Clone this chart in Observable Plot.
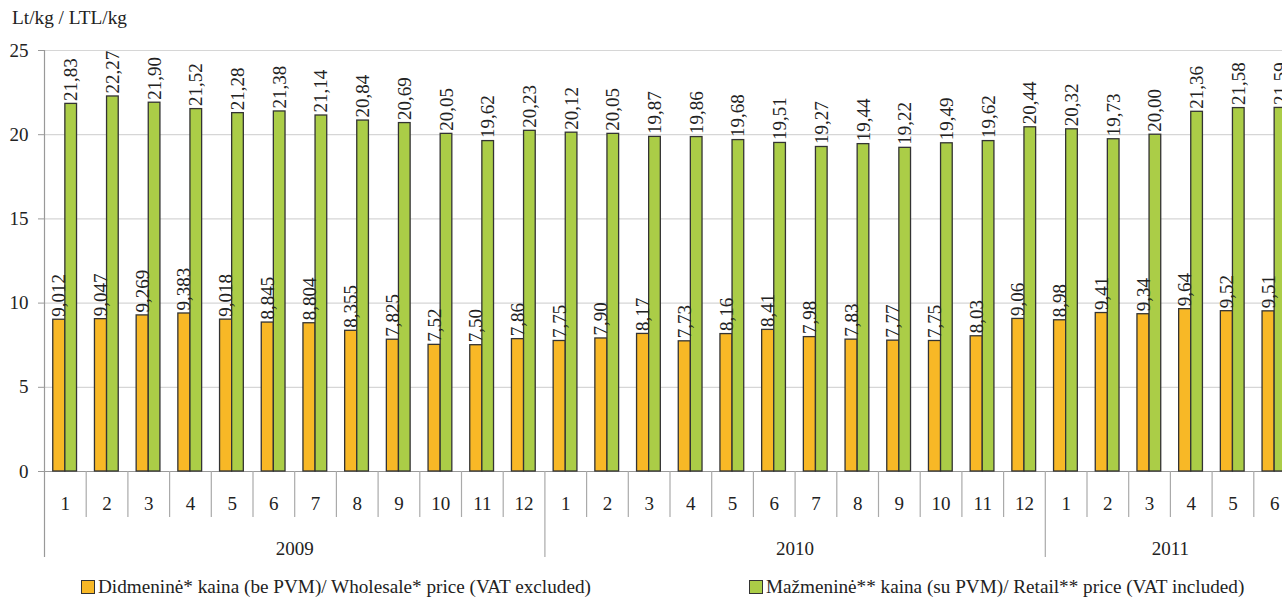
<!DOCTYPE html>
<html><head><meta charset="utf-8">
<script src="https://cdn.jsdelivr.net/npm/d3@7"></script>
<script src="https://cdn.jsdelivr.net/npm/@observablehq/plot@0.6"></script>
<style>
body{margin:0;overflow:hidden;background:#fff;font-family:"Liberation Serif","Times New Roman",serif;color:#222;}
#wrap{position:relative;width:1282px;height:598px;overflow:hidden;}
#title{position:absolute;left:12px;top:7px;font-size:19.3px;}
#chart{position:absolute;left:0;top:0;width:1300px;}
#chart svg{max-width:none !important;font-family:"Liberation Serif","Times New Roman",serif !important;}
.leg{position:absolute;top:576px;font-size:19.2px;display:flex;align-items:center;white-space:nowrap;}
.sw{width:12px;height:12px;border:1.5px solid #333;margin-right:3px;}
</style></head><body>
<div id="wrap">
<div id="chart"></div>
<div id="title">Lt/kg / LTL/kg</div>
<div class="leg" style="left:81px"><div class="sw" style="background:#F8B826"></div>Didmeninė* kaina (be PVM)/ Wholesale* price (VAT excluded)</div>
<div class="leg" style="left:749px"><div class="sw" style="background:#ABCD47"></div>Mažmeninė** kaina (su PVM)/ Retail** price (VAT included)</div>
</div>
<script>
const months = [1,2,3,4,5,6,7,8,9,10,11,12, 1,2,3,4,5,6,7,8,9,10,11,12, 1,2,3,4,5,6];
const monthYears = ["2009","2009","2009","2009","2009","2009","2009","2009","2009","2009","2009","2009",
  "2010","2010","2010","2010","2010","2010","2010","2010","2010","2010","2010","2010",
  "2011","2011","2011","2011","2011","2011"];
const wholesale = [9.012,9.047,9.269,9.383,9.018,8.845,8.804,8.355,7.825,7.52,7.50,7.86,
  7.75,7.90,8.17,7.73,8.16,8.41,7.98,7.83,7.77,7.75,8.03,9.06,
  8.98,9.41,9.34,9.64,9.52,9.51];
const wholesaleDecimals = [3,3,3,3,3,3,3,3,3,2,2,2, 2,2,2,2,2,2,2,2,2,2,2,2, 2,2,2,2,2,2];
const retail = [21.83,22.27,21.90,21.52,21.28,21.38,21.14,20.84,20.69,20.05,19.62,20.23,
  20.12,20.05,19.87,19.86,19.68,19.51,19.27,19.44,19.22,19.49,19.62,20.44,
  20.32,19.73,20.00,21.36,21.58,21.59];
const yTicks = [0,5,10,15,20,25];

const orange = "#F8B826", green = "#ABCD47";
const fmt = (v, d) => v.toFixed(d).replace(".", ",");
const rows = months.map((m, i) => ({
  i, month: String(m), year: monthYears[i],
  w: wholesale[i], r: retail[i],
  wl: fmt(wholesale[i], wholesaleDecimals[i]), rl: fmt(retail[i], 2)
}));
const yearRows = Array.from(d3.group(rows, d => d.year), ([year, g]) => ({
  year, c: d3.mean(g, d => d.i), start: d3.min(g, d => d.i) - 0.5
}));
const separators = rows.slice(0, -1).map(d => d.i + 0.5).filter(x => !yearRows.some(y => y.start === x));
const yearSeps = yearRows.map(d => d.start);

const plotTop = 50, plotBottom = 471, H = 598;
const pxPerUnit = (plotBottom - plotTop) / 25;
const toUnits = px => -px / pxPerUnit;

const chart = Plot.plot({
  width: 1300, height: H,
  marginTop: plotTop, marginBottom: H - plotBottom, marginLeft: 44, marginRight: 5,
  style: {fontFamily: '"Liberation Serif","Times New Roman",serif', color: "#222", background: "transparent", maxWidth: "none"},
  x: {type: "linear", domain: [-0.5, 29.5], axis: null},
  y: {domain: [0, 25], axis: null},
  marks: [
    Plot.gridY(yTicks.slice(1), {stroke: "#d6d6d6", strokeOpacity: 1, strokeWidth: 1.2}),
    Plot.axisY(yTicks, {tickSize: 6, tickPadding: 10, fontSize: 19, stroke: "#999", label: null, fill: "#222"}),
    Plot.ruleY([0], {x1: -0.5, x2: 29.5, stroke: "#999", strokeWidth: 1.2}),
    Plot.ruleX([-0.5], {y1: toUnits(86), y2: 25, stroke: "#999", strokeWidth: 1.2}),
    Plot.ruleX(separators, {y1: 0, y2: toUnits(46), stroke: "#aaa", strokeWidth: 1.2}),
    Plot.ruleX(yearSeps.filter(x => x > 0), {y1: 0, y2: toUnits(86), stroke: "#aaa", strokeWidth: 1.2}),
    Plot.rectY(rows, {x1: d => d.i - 0.29, x2: d => d.i, y: "w", fill: orange, stroke: "#333", strokeWidth: 1.3}),
    Plot.rectY(rows, {x1: d => d.i, x2: d => d.i + 0.28, y: "r", fill: green, stroke: "#333", strokeWidth: 1.3}),
    Plot.text(rows, {x: d => d.i - 0.145, y: "w", text: "wl", rotate: -90, textAnchor: "start", dy: -3, fontSize: 19, fill: "#222"}),
    Plot.text(rows, {x: d => d.i + 0.14, y: "r", text: "rl", rotate: -90, textAnchor: "start", dy: -3, fontSize: 19, fill: "#222"}),
    Plot.text(rows, {x: "i", y: 0, dy: 32, text: "month", fontSize: 19, fill: "#222"}),
    Plot.text(yearRows, {x: "c", y: 0, dy: 77, text: "year", fontSize: 19, fill: "#222"})
  ]
});
document.getElementById("chart").appendChild(chart);
</script>
</body></html>
